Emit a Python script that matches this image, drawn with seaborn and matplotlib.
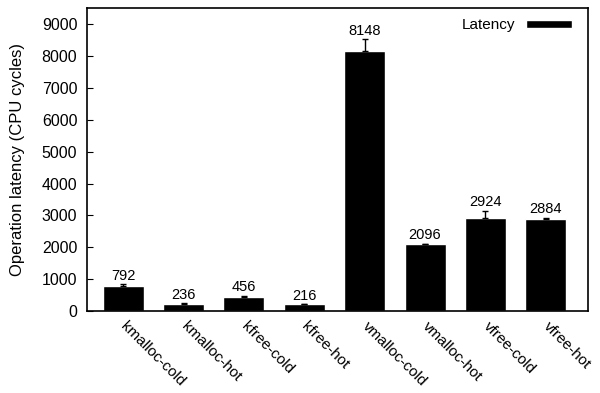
import matplotlib
matplotlib.use("Agg")
import matplotlib.pyplot as plt
import seaborn as sns
import pandas as pd

categories = ["kmalloc-cold", "kmalloc-hot", "kfree-cold", "kfree-hot",
              "vmalloc-cold", "vmalloc-hot", "vfree-cold", "vfree-hot"]
latency = [792, 236, 456, 216, 8148, 2096, 2924, 2884]
errors = [50, 10, 25, 8, 370, 10, 220, 40]

sns.set_style("white")
plt.rcParams["font.family"] = ["Liberation Sans", "DejaVu Sans"]
plt.rcParams["text.color"] = "black"
plt.rcParams["axes.labelcolor"] = "black"
plt.rcParams["xtick.color"] = "black"
plt.rcParams["ytick.color"] = "black"

df = pd.DataFrame({"op": categories, "lat": latency})

fig = plt.figure(figsize=(6.0, 3.93), dpi=100)
ax = fig.add_axes([0.145, 0.208, 0.835, 0.772])

sns.barplot(data=df, x="op", y="lat", color="black", width=0.68,
            errorbar=None, ax=ax, label="Latency", saturation=1)
ax.errorbar(range(len(categories)), latency, yerr=[[0]*len(errors), errors],
            fmt="none", ecolor="black", elinewidth=1, capsize=2.5)

for i, v in enumerate(latency):
    ax.text(i, v + errors[i] + 50, str(v), ha="center", va="bottom", fontsize=10.5)

ax.set_xlim(-0.6, 7.7)
ax.set_ylim(0, 9500)
ax.set_yticks(range(0, 9001, 1000))
ax.set_xlabel("")
ax.set_ylabel("Operation latency (CPU cycles)", fontsize=12, labelpad=12)
ax.tick_params(axis="y", direction="in", length=4, labelsize=11.5, left=True, pad=7)
ax.tick_params(axis="x", length=0, labelsize=11, pad=9)
plt.setp(ax.get_xticklabels(), rotation=-45, ha="left", va="center",
         rotation_mode="anchor")
for s in ax.spines.values():
    s.set_linewidth(1.2)
    s.set_color("black")

leg = ax.legend(loc="upper right", bbox_to_anchor=(0.984, 0.993),
                frameon=False, fontsize=11,
                handlelength=3.0, handleheight=0.5, markerfirst=False,
                borderaxespad=0.15, handletextpad=0.7)

fig.savefig("out.png", dpi=100)
